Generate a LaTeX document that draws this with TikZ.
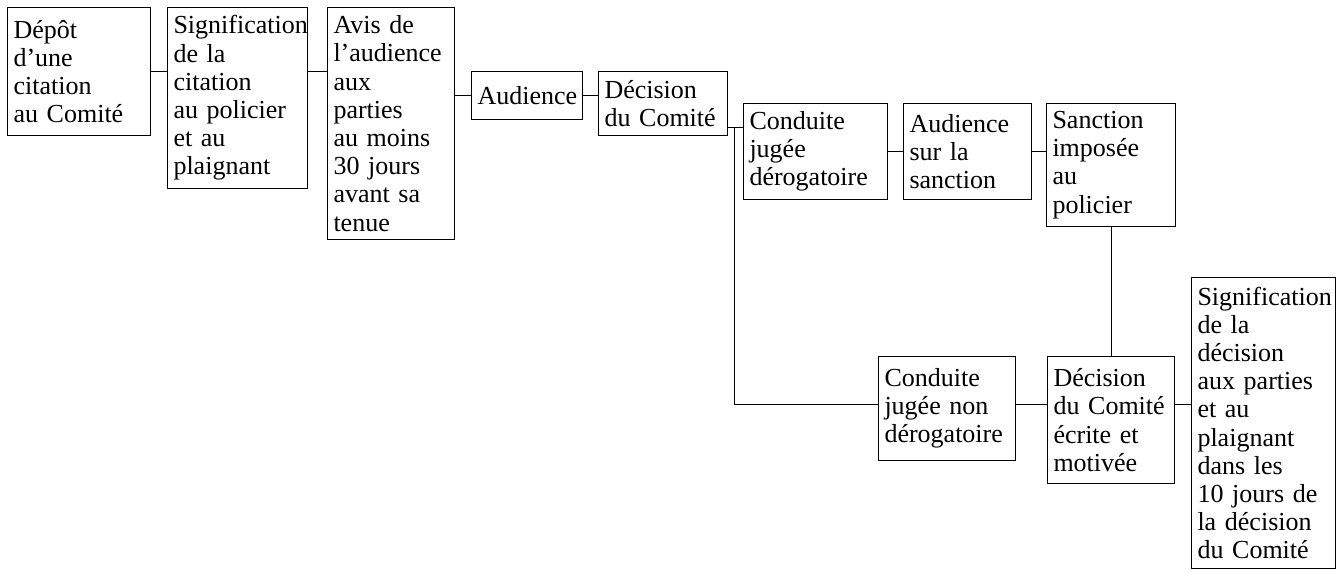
\documentclass[tikz,border=0pt]{standalone}
\usepackage{fontspec}
\setmainfont{Liberation Serif}

\begin{document}
\begin{tikzpicture}[x=0.5pt, y=-0.5pt, line width=0.5pt,
    etape/.style={draw, anchor=north west, align=left, inner xsep=3pt, inner ysep=0pt,
        font=\fontsize{13}{14.1}\selectfont}]
    \useasboundingbox (0,0) rectangle (1344,570);
    % premiere rangee
    \node[etape, text width=65.5pt, minimum height=64pt] (depot) at (7,7) {Dépôt\\d’une\\citation\\au Comité};
    \node[etape, text width=64pt, minimum height=90.5pt] (signif) at (167,7) {Signification\\de la\\citation\\au policier\\et au\\plaignant};
    \node[etape, text width=57.5pt, minimum height=116pt] (avis) at (327,7) {Avis de\\l’audience\\aux\\parties\\au moins\\30 jours\\avant sa\\tenue};
    \node[etape, text width=49.5pt, minimum height=24pt] (audience) at (471,71) {Audience};
    \node[etape, text width=58.5pt, minimum height=32pt] (decision) at (598,71) {Décision\\du Comité};
    \node[etape, text width=66pt, minimum height=48pt] (conduite) at (743,103) {Conduite\\jugée\\dérogatoire};
    \node[etape, text width=58pt, minimum height=48pt] (audsanction) at (903,103) {Audience\\sur la\\sanction};
    \node[etape, text width=58.5pt, minimum height=61.5pt] (sanction) at (1046,103) {Sanction\\imposée\\au\\policier};
    % deuxieme rangee
    \node[etape, text width=62.5pt, minimum height=52pt] (nonderog) at (878,356) {Conduite\\jugée non\\dérogatoire};
    \node[etape, text width=57.5pt, minimum height=63.5pt] (dececrite) at (1047,356) {Décision\\du Comité\\écrite et\\motivée};
    \node[etape, text width=66pt, minimum height=145.5pt] (signifdec) at (1191,277) {Signification\\de la\\décision\\aux parties\\et au\\plaignant\\dans les\\10 jours de\\la décision\\du Comité};
    \coordinate (fourche) at (734,127);
    \coordinate (basse) at (734,404);
    % liens
    \draw (depot.east) -- (depot.east -| signif.west);
    \draw (signif.east |- depot.east) -- (avis.west |- depot.east);
    \draw (avis.east |- audience.west) -- (audience.west);
    \draw (audience.east) -- (audience.east -| decision.west);
    \draw (decision.east |- fourche) -- (conduite.west |- fourche);
    \draw (fourche) -- (basse) -- (nonderog.west |- basse);
    \draw (conduite.east) -- (audsanction.west);
    \draw (audsanction.east) -- (audsanction.east -| sanction.west);
    \draw (sanction.south) -- (dececrite.north);
    \draw (nonderog.east |- basse) -- (dececrite.west |- basse);
    \draw (dececrite.east |- basse) -- (signifdec.west |- basse);
\end{tikzpicture}
\end{document}
